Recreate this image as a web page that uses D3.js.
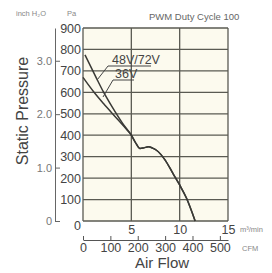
<!DOCTYPE html>
<html>
<head>
<meta charset="utf-8">
<script src="https://cdn.jsdelivr.net/npm/d3@7"></script>
<style>
  body { margin: 0; background: #fff; }
  svg text { font-family: "Liberation Sans Narrow", "Liberation Sans", Arial, sans-serif; }
</style>
</head>
<body>
<svg width="272" height="273"></svg>
<script>
// curves (flow in m3/min, pressure in Pa)
const flow48 = [0.2, 1.4, 2.1, 3.0, 4.1, 5.0, 5.4, 5.9, 6.3, 6.75, 7.2, 7.6, 8.5, 9.3, 10.0, 10.7, 11.6];
const pa48 = [775, 665, 603, 533, 455, 400, 368, 338, 341, 346, 340, 330, 284, 222, 168, 107, 0];
const flow36 = [0, 1.1, 2.1, 3.5, 4.6, 5.0, 5.4, 5.9, 6.3, 6.75, 7.2, 7.6, 8.5, 9.3, 10.0, 10.7, 11.6];
const pa36 = [670, 603, 549, 478, 422, 400, 368, 338, 341, 346, 340, 330, 284, 222, 168, 107, 0];

const paTicks = [0, 100, 200, 300, 400, 500, 600, 700, 800, 900];
const flowTicks = [0, 5, 10, 15];
const inchTicks = [0, 1, 2, 3];
const cfmTicks = [0, 100, 200, 300, 400, 500];

const PA_PER_INCH = 249.089;
const CFM_PER_M3 = 35.3147;

const plotL = 83, plotR = 228, plotT = 28, plotB = 221;

const svg = d3.select("svg");

const x = d3.scaleLinear().domain([0, 15]).range([plotL, plotR]);
const y = d3.scaleLinear().domain([0, 900]).range([plotB, plotT]);
const yIn = d3.scaleLinear().domain([0, 900 / PA_PER_INCH]).range([plotB, plotT]);
const xCfm = d3.scaleLinear().domain([0, 15 * CFM_PER_M3]).range([plotL, plotR]);

// plot background
svg.append("rect")
    .attr("x", plotL).attr("y", plotT)
    .attr("width", plotR - plotL).attr("height", plotB - plotT)
    .attr("fill", "#fcfaee");

// grid
const grid = svg.append("g").attr("stroke", "#5a5a52").attr("stroke-width", 1.3);
grid.selectAll("line.h").data(paTicks).enter().append("line")
    .attr("x1", plotL).attr("x2", plotR)
    .attr("y1", d => y(d)).attr("y2", d => y(d));
grid.selectAll("line.v").data(flowTicks).enter().append("line")
    .attr("x1", d => x(d)).attr("x2", d => x(d))
    .attr("y1", plotT).attr("y2", plotB);

// Pa axis (its 0 sits in the corner and serves both axes)
const paAxis = svg.append("g")
    .attr("transform", `translate(${plotL},0)`)
    .call(d3.axisLeft(y).tickValues(paTicks).tickSize(0).tickPadding(2));
paAxis.select(".domain").remove();
paAxis.selectAll("text").attr("font-size", "12.5px").attr("fill", "#444")
    .attr("y", d => d === 0 ? 4 : 0);

// inch H2O axis
const inAxis = svg.append("g")
    .attr("transform", "translate(55,0)")
    .call(d3.axisLeft(yIn).tickValues(inchTicks).tickSize(-5).tickSizeOuter(0).tickPadding(3)
        .tickFormat(d => d === 0 ? "0" : d3.format(".1f")(d)));
inAxis.select(".domain").attr("stroke", "#666");
inAxis.selectAll("line").attr("stroke", "#666");
inAxis.selectAll("text").attr("font-size", "11px").attr("fill", "#777");

// m3/min axis
const xAxis = svg.append("g")
    .attr("transform", `translate(0,${plotB})`)
    .call(d3.axisBottom(x).tickValues(flowTicks.filter(d => d > 0)).tickSize(0).tickPadding(4));
xAxis.select(".domain").remove();
xAxis.selectAll("text").attr("font-size", "12.5px").attr("fill", "#444");

// CFM axis
const cfmAxis = svg.append("g")
    .attr("transform", "translate(0,240)")
    .call(d3.axisBottom(xCfm).tickValues(cfmTicks).tickSize(-4).tickSizeOuter(0).tickPadding(3));
cfmAxis.select(".domain").attr("stroke", "#555");
cfmAxis.selectAll("line").attr("stroke", "#555");
cfmAxis.selectAll("text").attr("font-size", "12.5px").attr("fill", "#444");

// curves
const line = d3.line()
    .x(d => x(d[0]))
    .y(d => y(d[1]))
    .curve(d3.curveMonotoneX);

[[flow48, pa48], [flow36, pa36]].forEach(([f, p]) => {
    svg.append("path")
        .datum(f.map((v, i) => [v, p[i]]))
        .attr("d", line)
        .attr("fill", "none")
        .attr("stroke", "#3a3a36")
        .attr("stroke-width", 1.5);
});

// curve labels with leaders
const lab = svg.append("g").attr("stroke", "#444").attr("stroke-width", 1);
lab.append("line").attr("x1", 108).attr("y1", 66).attr("x2", 151).attr("y2", 66);
lab.append("line").attr("x1", 108).attr("y1", 66).attr("x2", x(1.5)).attr("y2", y(660));
lab.append("line").attr("x1", 113).attr("y1", 80).attr("x2", 134).attr("y2", 80);
lab.append("line").attr("x1", 113).attr("y1", 80).attr("x2", 103).attr("y2", 97);

svg.append("text").attr("x", 112).attr("y", 64)
    .attr("font-size", "12.5px").attr("fill", "#444").text("48V/72V");
svg.append("text").attr("x", 115).attr("y", 78)
    .attr("font-size", "12.5px").attr("fill", "#444").text("36V");

// titles and units
svg.append("text").attr("x", 149).attr("y", 20)
    .attr("font-size", "9.5px").attr("fill", "#666").text("PWM Duty Cycle 100");

svg.append("text").attr("x", 16).attr("y", 16)
    .attr("font-size", "7.5px").attr("fill", "#888").text("inch H₂O");
svg.append("text").attr("x", 67).attr("y", 16)
    .attr("font-size", "7.5px").attr("fill", "#888").text("Pa");
svg.append("text").attr("x", 240).attr("y", 232)
    .attr("font-size", "7.5px").attr("fill", "#888").text("m³/min");
svg.append("text").attr("x", 242).attr("y", 251)
    .attr("font-size", "7.5px").attr("fill", "#888").text("CFM");

svg.append("text")
    .attr("transform", "translate(28,111) rotate(-90)")
    .attr("text-anchor", "middle")
    .attr("font-size", "16px").attr("fill", "#444")
    .style("font-family", "'Liberation Sans', Arial, sans-serif")
    .text("Static Pressure");
svg.append("text")
    .attr("x", 162).attr("y", 268)
    .attr("text-anchor", "middle")
    .attr("font-size", "15px").attr("fill", "#444")
    .style("font-family", "'Liberation Sans', Arial, sans-serif")
    .text("Air Flow");
</script>
</body>
</html>
